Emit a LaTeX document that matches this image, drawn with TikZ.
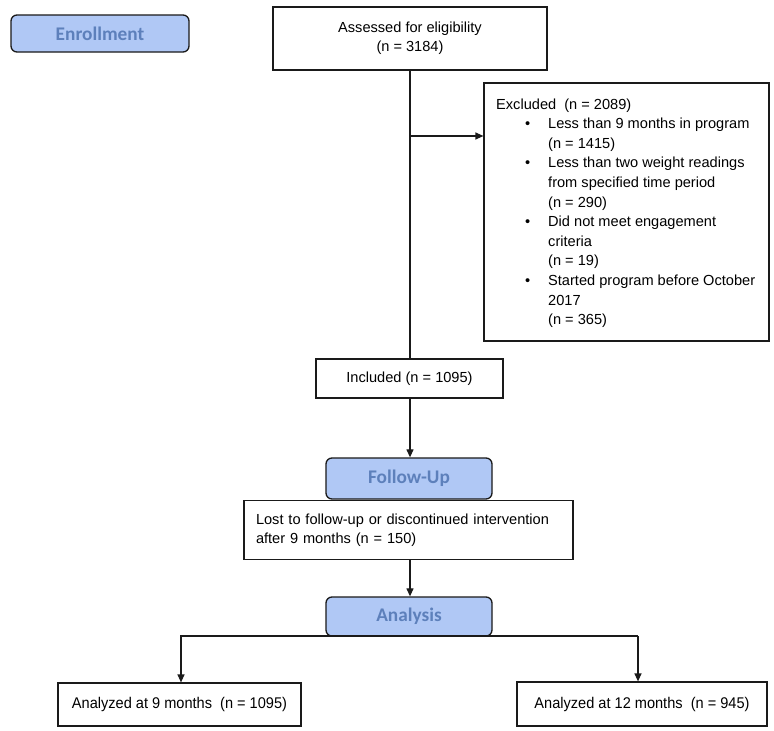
\documentclass[tikz,border=0pt]{standalone}
\usepackage{fontspec}
\setmainfont{Liberation Sans}
\newfontfamily\calfont{Carlito}
\newfontfamily\narrowfont[FakeStretch=0.94]{Liberation Sans}
\usetikzlibrary{arrows.meta}
\definecolor{phasefill}{HTML}{B0C8F5}
\definecolor{phasetext}{HTML}{5D80BB}
\definecolor{edgecol}{HTML}{1A1A1A}
\newcommand{\bul}{\makebox[52pt][l]{\hspace{29pt}\textbullet}}
\begin{document}
\begin{tikzpicture}[x=1pt,y=-1pt,
  box/.style={draw=edgecol, line width=1.2pt, fill=white, inner sep=0pt, align=center,
    font=\fontsize{14.6}{19}\selectfont},
  phase/.style={draw=edgecol, line width=1.3pt, fill=phasefill, rounded corners=6pt,
    inner sep=0pt, text=phasetext, font=\calfont\bfseries\fontsize{19.3}{22}\selectfont},
  conn/.style={line width=1.2pt, draw=edgecol},
  arr/.style={conn, -{Triangle[length=8pt,width=7pt]}}]
\useasboundingbox (0,0) rectangle (774,731);
\fill[white] (0,0) rectangle (774,731);
\coordinate (axis) at (410,0);

\node[phase, minimum width=178pt, minimum height=37pt] (enroll) at (100,33.5) {Enrollment};
\node[box, minimum width=274pt, minimum height=63pt] (assess) at (410,38.5) {Assessed for eligibility\\(n = 3184)};
\node[box, minimum width=285pt, minimum height=258pt] (excl) at (626.5,212) {};
\node[anchor=base west, inner sep=0pt, font=\fontsize{14.6}{19.6}\selectfont] (excltext) at (496,109) {%
\begin{tabular}[t]{@{}l@{}l@{}}
\multicolumn{2}{@{}l@{}}{Excluded\ \ (n = 2089)}\\
\bul & Less than 9 months in program\\
 & (n = 1415)\\
\bul & Less than two weight readings\\
 & from specified time period\\
 & (n = 290)\\
\bul & Did not meet engagement\\
 & criteria\\
 & (n = 19)\\
\bul & Started program before October\\
 & 2017\\
 & (n = 365)
\end{tabular}};
\node[box, minimum width=187pt, minimum height=39pt] (incl) at (409.5,378.5) {Included (n = 1095)};
\node[box, minimum width=329pt, minimum height=59pt, align=left, text width=305pt] (lost) at (408.5,530) {Lost to follow-up or discontinued intervention\\after 9 months (n = 150)};
\node[phase, minimum width=166pt, minimum height=41pt] (follow) at (409,478.5) {Follow-Up};
\node[phase, minimum width=166pt, minimum height=39pt] (analysis) at (409,616.5) {Analysis};
\node[box, font=\narrowfont\fontsize{15.5}{19}\selectfont, minimum width=243pt, minimum height=43pt] (an9) at (179.5,704.5) {Analyzed at 9 months\ \ (n = 1095)};
\node[box, font=\narrowfont\fontsize{15.5}{19}\selectfont, minimum width=250pt, minimum height=44pt] (an12) at (642,704) {Analyzed at 12 months\ \ (n = 945)};

\coordinate (branch) at (410,136);
\draw[conn] (assess.south -| axis) -- (incl.north -| axis);
\draw[arr] (branch) -- (branch -| excl.west);
\draw[arr] (incl.south -| axis) -- (follow.north -| axis);
\draw[arr] (lost.south -| axis) -- (analysis.north -| axis);
\coordinate (L) at (181,636);
\coordinate (R) at (638,636);
\draw[arr] (R) -- (L) -- (L |- an9.north);
\draw[arr] (R) -- (R |- an12.north);
\end{tikzpicture}
\end{document}
